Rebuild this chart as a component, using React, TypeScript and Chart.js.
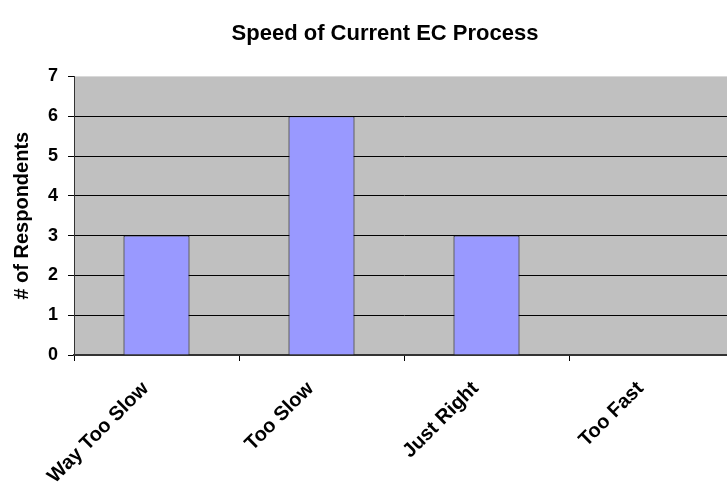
import React, { useEffect, useRef } from "react";
import { Chart, registerables } from "chart.js";

Chart.register(...registerables);

const categories = ["Way Too Slow", "Too Slow", "Just Right", "Too Fast"];
const respondents = [3, 6, 3, 0];
const chartTitle = "Speed of Current EC Process";
const yAxisTitle = "# of Respondents";
const yMin = 0;
const yMax = 7;

const FONT = "Arial, 'Liberation Sans', Helvetica, sans-serif";

const plotBg = {
  id: "plotBg",
  beforeDraw(chart: any) {
    const { ctx, chartArea } = chart;
    if (!chartArea) return;
    ctx.save();
    ctx.fillStyle = "#C0C0C0";
    ctx.fillRect(chartArea.left, chartArea.top, chartArea.right - chartArea.left, chartArea.bottom - chartArea.top);
    ctx.restore();
  },
};

export default function App() {
  const ref = useRef<HTMLCanvasElement | null>(null);
  useEffect(() => {
    document.body.style.margin = "0";
    const c = ref.current!;
    const chart = new Chart(c, {
      type: "bar",
      data: {
        labels: categories,
        datasets: [
          {
            data: respondents,
            backgroundColor: "#9999FF",
            borderColor: "#000000",
            borderWidth: 1,
            categoryPercentage: 1,
            barPercentage: 0.4,
          },
        ],
      },
      options: {
        animation: false,
        responsive: false,
        devicePixelRatio: 1,
        layout: { padding: 0 },
        plugins: {
          legend: { display: false },
          tooltip: { enabled: false },
          title: {
            display: true,
            text: chartTitle,
            color: "#000",
            font: { family: FONT, size: 22, weight: "bold" },
            padding: { top: 21, bottom: 29 },
          },
        },
        scales: {
          x: {
            grid: {
              offset: true,
              drawOnChartArea: false,
              drawTicks: true,
              tickLength: 6,
              tickColor: "#000",
            },
            border: { display: true, color: "#333", width: 2 },
            ticks: {
              color: "#000",
              font: { family: FONT, size: 20, weight: "bold" },
              minRotation: 45,
              maxRotation: 45,
              padding: 16,
              labelOffset: -11,
            },
            afterFit(scale: any) {
              scale.height = 128;
            },
          },
          y: {
            min: yMin,
            max: yMax,
            ticks: {
              stepSize: 1,
              color: "#000",
              font: { family: FONT, size: 18, weight: "bold" },
              padding: 10,
            },
            grid: {
              color: (ctx: any) => (ctx.tick && ctx.tick.value === yMax ? "rgba(0,0,0,0)" : "#000"),
              tickColor: "#000",
              tickLength: 6,
              lineWidth: 1,
            },
            border: { display: true, color: "#333", width: 1 },
            title: {
              display: true,
              text: yAxisTitle,
              color: "#000",
              font: { family: FONT, size: 20, weight: "bold" },
              padding: { top: 10, bottom: 0 },
            },
            afterFit(scale: any) {
              scale.width = 74;
            },
          },
          y2: {
            position: "right",
            min: yMin,
            max: yMax,
            ticks: { display: false },
            grid: { display: false, drawTicks: false },
            border: { display: false },
            afterFit(scale: any) {
              scale.width = 36;
            },
          },
        },
      } as any,
      plugins: [plotBg],
    });
    return () => chart.destroy();
  }, []);
  return (
    <div style={{ width: 727, height: 483, overflow: "hidden", position: "relative", background: "#fff" }}>
      <canvas ref={ref} width={770} height={483} style={{ position: "absolute", left: 0, top: 0, width: 770, height: 483 }} />
    </div>
  );
}
